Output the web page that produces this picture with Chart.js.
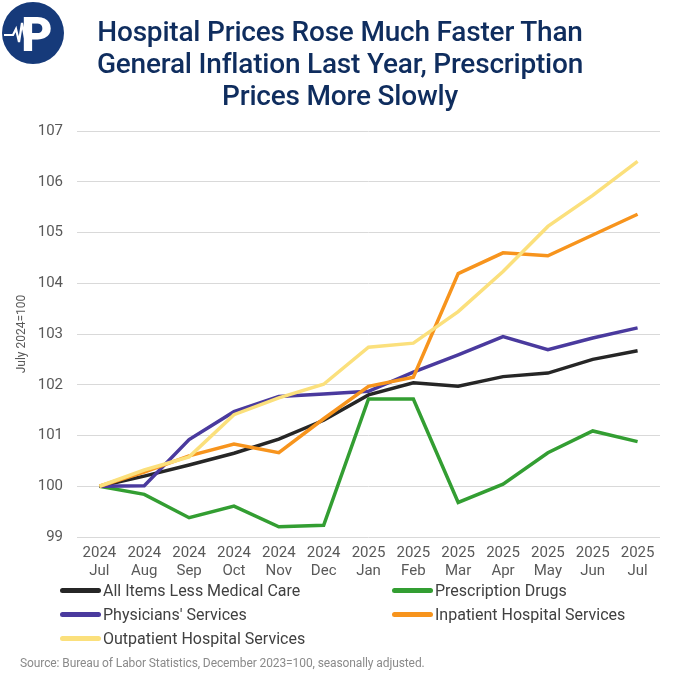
<!DOCTYPE html>
<html>
<head>
<meta charset="utf-8">
<script src="https://cdn.jsdelivr.net/npm/chart.js@4.4.1/dist/chart.umd.min.js"></script>
<style>
  html, body { margin: 0; padding: 0; background: #fff; }
  #wrap { position: relative; width: 675px; height: 680px; font-family: Roboto, sans-serif; }
  #chart { position: absolute; left: 0; top: 0; }
  #logo { position: absolute; left: 1px; top: 1px; }
  #title {
    position: absolute; left: 0; top: 16px; width: 680px; text-align: center;
    color: #0f2d5e; font-size: 28px; font-weight: 500; line-height: 32px;
    letter-spacing: -0.2px;
  }
  #legend {
    position: absolute; left: 60px; top: 580px; width: 615px;
    display: grid; grid-template-columns: 332px 283px; row-gap: 4px;
    font-size: 16px; color: #404040;
  }
  .item { display: flex; align-items: center; height: 20px; }
  .swatch { width: 41px; height: 5px; border-radius: 3px; margin-right: 2px; }
  #source {
    position: absolute; left: 20px; top: 656px; font-size: 12px; color: #8a8a8a;
    letter-spacing: -0.1px;
  }
</style>
</head>
<body>
<div id="wrap">
  <canvas id="chart" width="675" height="680"></canvas>
  <svg id="logo" width="64" height="64" viewBox="0 0 64 64">
    <circle cx="32" cy="32" r="31" fill="#163a7a"/>
    <text x="36" y="50" font-family="Roboto, sans-serif" font-weight="900" font-size="48" fill="#fff" text-anchor="middle">P</text>
    <polyline points="3,34 12,34 15,28 18,41 21,22 24,37 27,34 33,34" fill="none" stroke="#fff" stroke-width="2.2"/>
  </svg>
  <div id="title">Hospital Prices Rose Much Faster Than<br>General Inflation Last Year, Prescription<br>Prices More Slowly</div>
  <div id="legend"></div>
  <div id="source">Source: Bureau of Labor Statistics, December 2023=100, seasonally adjusted.</div>
</div>
<script>
var years = ['2024', '2024', '2024', '2024', '2024', '2024', '2025', '2025', '2025', '2025', '2025', '2025', '2025'];
var months = ['Jul', 'Aug', 'Sep', 'Oct', 'Nov', 'Dec', 'Jan', 'Feb', 'Mar', 'Apr', 'May', 'Jun', 'Jul'];

var allItems = [100, 100.2, 100.42, 100.65, 100.93, 101.3, 101.8, 102.04, 101.97, 102.16, 102.23, 102.5, 102.67];
var prescription = [100, 99.84, 99.38, 99.61, 99.2, 99.23, 101.72, 101.72, 99.68, 100.04, 100.66, 101.09, 100.88];
var physicians = [100, 100.01, 100.92, 101.47, 101.77, 101.82, 101.87, 102.25, 102.59, 102.95, 102.69, 102.92, 103.12];
var inpatient = [100, 100.28, 100.6, 100.83, 100.66, 101.33, 101.97, 102.15, 104.19, 104.6, 104.54, 104.95, 105.36];
var outpatient = [100, 100.32, 100.58, 101.41, 101.74, 102.01, 102.74, 102.82, 103.44, 104.23, 105.12, 105.73, 106.4];

var seriesNames = ['All Items Less Medical Care', 'Prescription Drugs', "Physicians' Services",
  'Inpatient Hospital Services', 'Outpatient Hospital Services'];
var seriesColors = ['#262626', '#339e32', '#4a3a9e', '#f7941d', '#fbe07c'];
var seriesData = [allItems, prescription, physicians, inpatient, outpatient];

var labels = years.map(function(y, i) { return [y, months[i]]; });

// later series sit on top, like the original
var datasets = seriesData.map(function(d, i) {
  return {
    label: seriesNames[i],
    data: d,
    borderColor: seriesColors[i],
    backgroundColor: seriesColors[i],
    borderWidth: 3.5,
    pointRadius: 0,
    tension: 0,
    fill: false,
    order: 5 - i
  };
});

var ctx = document.getElementById('chart').getContext('2d');
var chart = new Chart(ctx, {
  type: 'line',
  data: { labels: labels, datasets: datasets },
  options: {
    responsive: false,
    animation: false,
    layout: { padding: { left: 0, right: 15, top: 131, bottom: 98 } },
    plugins: {
      legend: { display: false },
      tooltip: { enabled: false }
    },
    scales: {
      x: {
        offset: true,
        grid: { display: false, drawTicks: false },
        border: { display: false },
        ticks: {
          color: '#595959', padding: 7, maxRotation: 0, autoSkip: false,
          font: { family: 'Roboto', size: 15, lineHeight: 1.2 }
        },
        afterFit: function(scale) { scale.height = 45; }
      },
      y: {
        min: 99, max: 107,
        grid: { color: '#d9d9d9', lineWidth: 1, drawTicks: false },
        border: { display: false },
        ticks: {
          stepSize: 1, color: '#595959', padding: 14,
          font: { family: 'Roboto', size: 15 }
        },
        title: {
          display: true, text: 'July 2024=100', color: '#595959',
          font: { family: 'Roboto', size: 12 }, padding: { top: 15, bottom: 0 }
        },
        afterFit: function(scale) { scale.width = 77; }
      }
    }
  }
});

var legendEl = document.getElementById('legend');
seriesNames.forEach(function(name, i) {
  var item = document.createElement('div');
  item.className = 'item';
  var sw = document.createElement('span');
  sw.className = 'swatch';
  sw.style.background = seriesColors[i];
  var txt = document.createElement('span');
  txt.textContent = name;
  item.appendChild(sw);
  item.appendChild(txt);
  legendEl.appendChild(item);
});
</script>
</body>
</html>
